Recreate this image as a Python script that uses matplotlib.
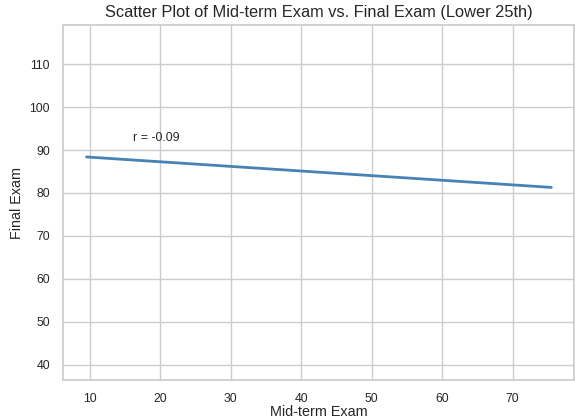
import matplotlib
matplotlib.use("Agg")
import matplotlib.pyplot as plt
import seaborn as sns

# fitted regression line (lower 25th group)
mid_term = [9.5, 75.5]
final_fit = [88.4, 81.3]
r_value = -0.09
r_pos = (16.1, 92.9)

sns.set_theme(style="whitegrid")
plt.rcParams["font.family"] = ["Liberation Sans", "DejaVu Sans"]

fig, ax = plt.subplots(figsize=(5.75, 4.2), dpi=100)
fig.subplots_adjust(left=0.110, right=0.998, top=0.940, bottom=0.095)

ax.plot(mid_term, final_fit, color="#4682b4", linewidth=2)
ax.text(r_pos[0], r_pos[1], f"r = {r_value:.2f}", fontsize=8.9, va="center", ha="left")

ax.set_xlim(6.2, 78.7)
ax.set_ylim(36.4, 119.1)
ax.set_xticks([10, 20, 30, 40, 50, 60, 70])
ax.set_yticks([40, 50, 60, 70, 80, 90, 100, 110])
ax.tick_params(labelsize=8.8)
ax.set_title("Scatter Plot of Mid-term Exam vs. Final Exam (Lower 25th)", fontsize=11.8)
ax.set_xlabel("Mid-term Exam", fontsize=10.4, labelpad=0)
ax.set_ylabel("Final Exam", fontsize=10.4)

fig.savefig("out.png")
